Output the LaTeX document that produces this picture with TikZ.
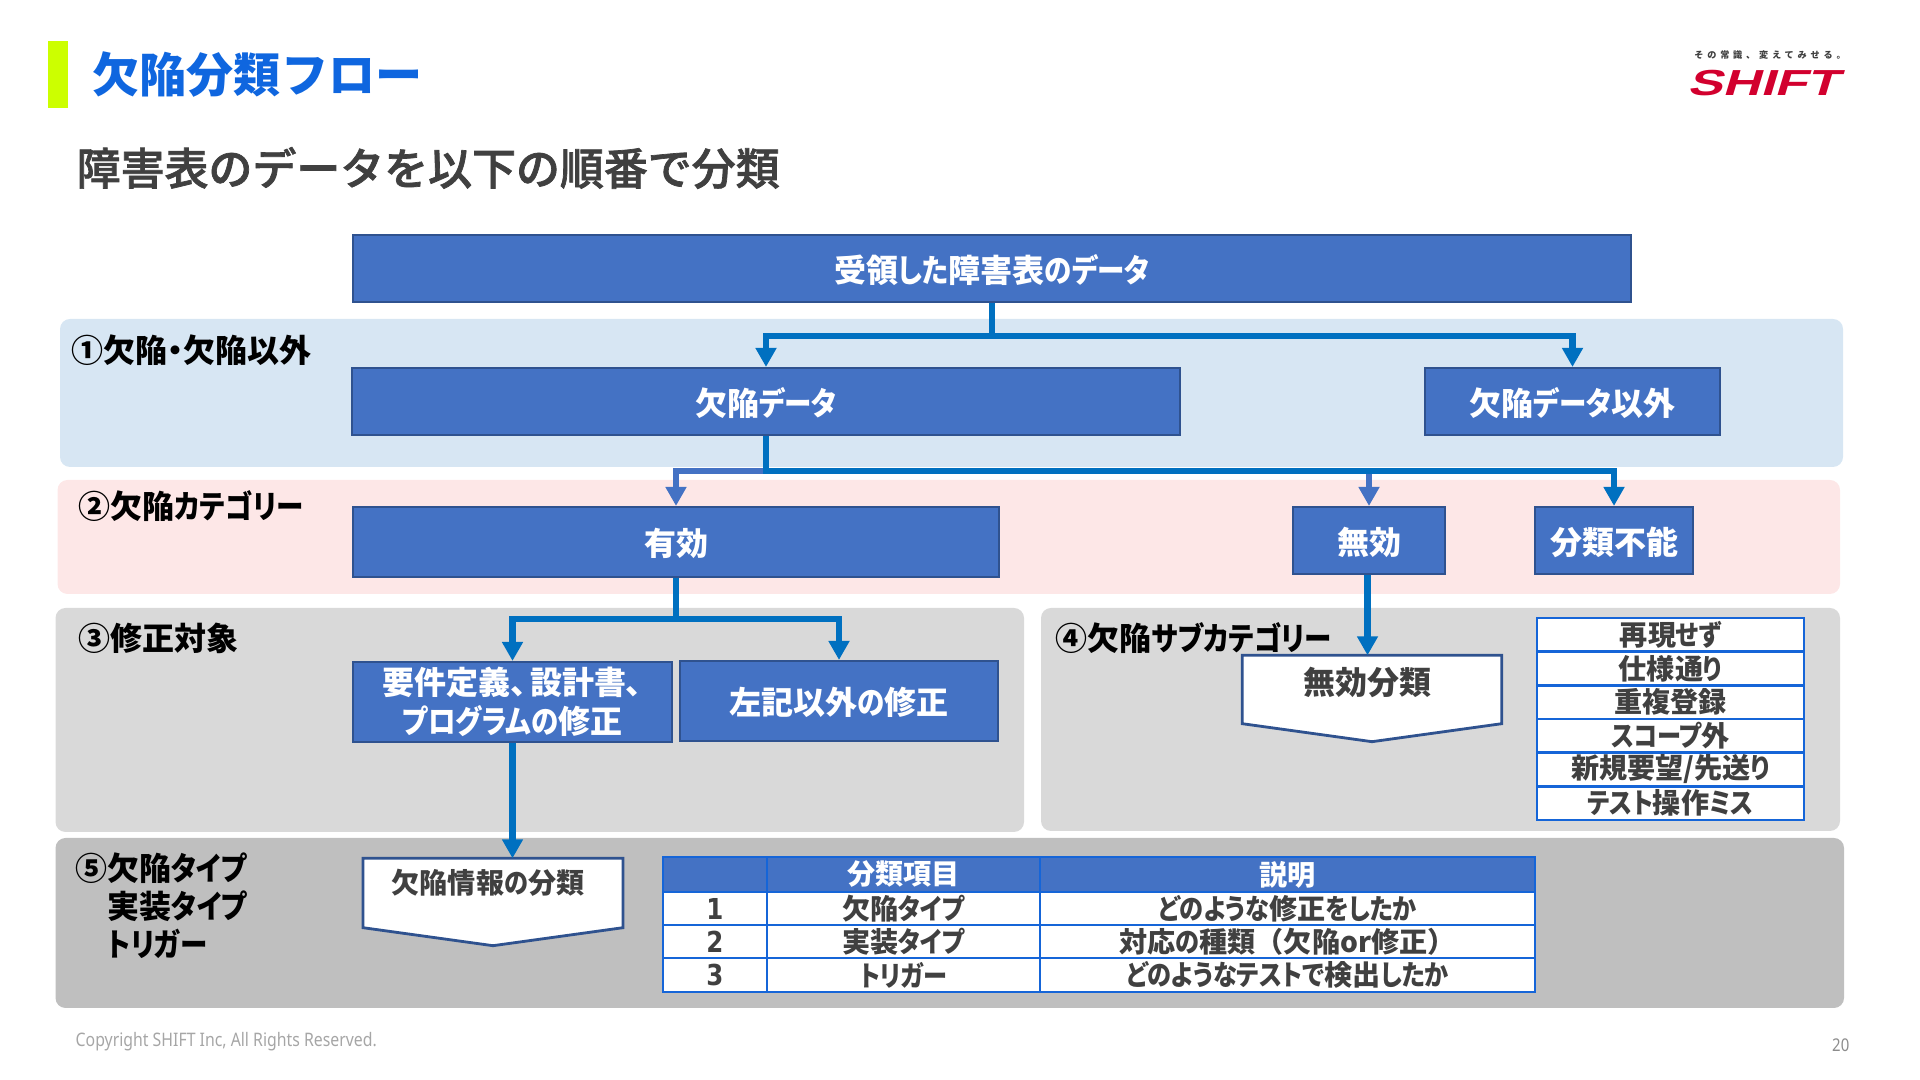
\documentclass[tikz,border=0pt]{standalone}
\usepackage{fontspec}
\setmainfont[RawFeature=+palt]{Noto Sans CJK JP}
\newfontfamily\headfont[FakeBold=1.6]{Noto Sans CJK JP Medium}
\newfontfamily\plainfont{Noto Sans CJK JP}
\newfontfamily\kanafont[RawFeature=+palt,FakeStretch=0.86]{Noto Sans CJK JP}
\newfontfamily\digitfont[FakeStretch=0.85]{DejaVu Sans}
\newfontfamily\sloganfont[LetterSpace=42]{Noto Sans CJK JP}
\newfontfamily\logofont[FakeSlant=0.3,FakeStretch=1.45]{Liberation Sans}
\newfontfamily\copyfont[FakeStretch=0.85]{Noto Sans}
\newcommand{\kn}[1]{{\kanafont #1}}
\usepackage{xcolor}
\definecolor{shiftBlue}{HTML}{4472C4}
\definecolor{shiftEdge}{HTML}{2F528F}
\definecolor{shiftFlow}{HTML}{0070C0}
\definecolor{shiftGrid}{HTML}{1565D8}
\definecolor{shiftTitle}{HTML}{0F66DF}
\definecolor{shiftLime}{HTML}{CCFF00}
\definecolor{shiftRed}{HTML}{D2002E}
\definecolor{shiftInk}{HTML}{404040}
\definecolor{bandOne}{HTML}{D7E6F3}
\definecolor{bandTwo}{HTML}{FDE7E7}
\definecolor{bandThree}{HTML}{D9D9D9}
\definecolor{bandFive}{HTML}{BFBFBF}
\usetikzlibrary{calc,arrows.meta}
\tikzset{
  flowbox/.style={draw=shiftEdge, line width=.6pt, fill=shiftBlue, text=white, inner sep=0pt,
    align=center, font=\fontsize{9.1}{11}\selectfont\bfseries},
  flowline/.style={flowbox, text height=.32cm, text depth=.04cm},
  flow/.style={->, shiftFlow, line width=.065cm},
  flowlight/.style={->, shiftBlue, line width=.065cm},
  band/.style={rounded corners=.1cm},
  bandlabel/.style={anchor=west, inner sep=0pt, align=left, text=black,
    font=\fontsize{9.1}{10.8}\selectfont\bfseries},
  pagelabel/.style={inner sep=0pt, font=\fontsize{8}{9}\selectfont\bfseries},
  pageshape/.style={draw=none, inner sep=0pt},
  pageline/.style={draw=shiftEdge, line width=.8pt, fill=white},
  cell/.style={draw=shiftGrid, line width=.7pt, fill=white, text=shiftInk, inner sep=0pt,
    font=\fontsize{8}{9}\selectfont\bfseries},
  headcell/.style={cell, fill=shiftBlue, text=white},
}

\begin{document}
\begin{tikzpicture}[>={Triangle[length=.19cm,width=.2cm]}]
  \useasboundingbox (0,0) rectangle (19.2,10.8);
  % heading
  \fill[shiftLime] (0.48,9.72) rectangle (0.675,10.39);
  \node[anchor=west, inner sep=0pt, text=shiftTitle, font=\fontsize{13.4}{15}\plainfont\bfseries] (title) at (0.92,10.05) {欠陥分類フロー};
  \node[anchor=west, inner sep=0pt, text=shiftInk, font=\fontsize{12.5}{14}\headfont] (subtitle) at (0.76,9.12) {障害表のデータを以下の順番で分類};
  % logo
  \node[inner sep=0pt, text=shiftInk, font=\fontsize{2.6}{3}\sloganfont\bfseries] (slogan) at (17.70,10.25) {その常識、変えてみせる。};
  \node[inner sep=0pt, text=shiftRed, font=\fontsize{10.3}{12}\logofont\bfseries] (logo) at (17.63,9.97) {SHIFT};
  % bands
  \fill[band, bandOne]   (0.60,6.13) rectangle (18.43,7.61);
  \fill[band, bandTwo]   (0.575,4.86) rectangle (18.40,6.00);
  \fill[band, bandThree] (0.555,2.48) rectangle (10.24,4.72);
  \fill[band, bandThree] (10.41,2.49) rectangle (18.40,4.72);
  \fill[band, bandFive]  (0.555,0.72) rectangle (18.44,2.42);
  \node[bandlabel] (labelOne)   at (0.71,7.30) {①欠陥・欠陥以外};
  \node[bandlabel] (labelTwo)   at (0.78,5.74) {②欠陥\kn{カテゴリー}};
  \node[bandlabel] (labelThree) at (0.78,4.42) {③修正対象};
  \node[bandlabel] (labelFour)  at (10.55,4.42) {④欠陥\kn{サブカテゴリー}};
  \node[bandlabel, anchor=north west, text depth=0pt] (labelFive) at (0.75,2.275)
    {⑤欠陥\kn{タイプ}\\\hspace*{.32cm}実装\kn{タイプ}\\\hspace*{.32cm}\kn{トリガー}};
  % flow boxes
  \node[flowline, minimum width=12.785cm, minimum height=.67cm] (received) at (9.92,8.115) {受領\kn{した}障害表\kn{のデータ}};
  \node[flowline, minimum width=8.275cm, minimum height=.67cm] (defect) at (7.66,6.785) {欠陥\kn{データ}};
  \node[flowline, minimum width=2.95cm, minimum height=.67cm] (nondefect) at (15.725,6.785) {欠陥\kn{データ}以外};
  \node[flowline, minimum width=6.465cm, minimum height=.70cm] (valid) at (6.76,5.38) {有効};
  \node[flowline, minimum width=1.52cm, minimum height=.67cm] (invalid) at (13.69,5.395) {無効};
  \node[flowline, minimum width=1.58cm, minimum height=.67cm] (unsorted) at (16.14,5.395) {分類不能};
  \node[flowbox, minimum width=3.19cm, minimum height=.80cm] (design) at (5.125,3.78) {要件定義、\hspace{.1em}設計書、\\\kn{プログラムの}修正};
  \node[flowline, minimum width=3.18cm, minimum height=.80cm] (otherfix) at (8.39,3.79) {左記以外\kn{の}修正};
  % page shapes
  \node[pageshape, minimum width=2.58cm, minimum height=.85cm] (invalidsort) at (13.72,3.815) {};
  \draw[pageline] (invalidsort.north west) -- (invalidsort.north east) -- ($(invalidsort.south east)+(0,.18)$)
    -- (invalidsort.south) -- ($(invalidsort.south west)+(0,.18)$) -- cycle;
  \node[pagelabel, text=shiftInk, font=\fontsize{9.1}{10}\selectfont\bfseries] (invalidsorttext) at (13.67,3.98) {無効分類};
  \node[pageshape, minimum width=2.585cm, minimum height=.86cm] (infosort) at (4.93,1.78) {};
  \draw[pageline] (infosort.north west) -- (infosort.north east) -- ($(infosort.south east)+(0,.18)$)
    -- (infosort.south) -- ($(infosort.south west)+(0,.18)$) -- cycle;
  \node[pagelabel, text=shiftInk] (infosorttext) at (4.88,1.97) {欠陥情報\kn{の}分類};
  % connectors
  \coordinate (busOne) at (9.92,7.44);
  \coordinate (busTwo) at (7.66,6.09);
  \coordinate (busThree) at (6.76,4.61);
  \draw[flow] (received.south) -- (busOne) -| (defect.north);
  \draw[flow] (busOne) -| (nondefect.north);
  \draw[flowlight] (busTwo) -| (valid.north);
  \draw[flowlight] (busTwo) -| (invalid.north);
  \draw[flow] (defect.south) -- (busTwo) -| (unsorted.north);
  \draw[flow] (valid.south) -- (busThree) -| (design.north);
  \draw[flow] (busThree) -| (otherfix.north);
  \draw[flow] ([xshift=-.015cm]invalid.south) -- ([xshift=-.015cm]invalid.south |- invalidsort.north);
  \draw[flow] (design.south) -- (design.south |- infosort.north);
  % sub category list
  \foreach \n/\y/\t in {1/4.452/再現\kn{せず}, 2/4.115/仕様通\kn{り}, 3/3.778/重複登録, 4/3.442/\kn{スコープ}外, 5/3.105/{新規要望/先送\kn{り}}, 6/2.768/\kn{テスト}操作\kn{ミス}}
    \node[cell, minimum width=2.67cm, minimum height=.337cm] (sub\n) at (16.705,\y) {\t};
  % type table
  \node[headcell, minimum width=1.04cm, minimum height=.35cm] (headNo) at (7.15,2.055) {};
  \node[headcell, minimum width=2.73cm, minimum height=.35cm] (headItem) at (9.035,2.055) {分類項目};
  \node[headcell, minimum width=4.95cm, minimum height=.35cm] (headNote) at (12.875,2.055) {説明};
  \foreach \n/\y/\a/\b in {1/1.715/欠陥\kn{タイプ}/\kn{どのような}修正\kn{をしたか}, 2/1.385/実装\kn{タイプ}/対応\kn{の}種類{\plainfont （}欠陥or修正{\plainfont ）}, 3/1.05/\kn{トリガー}/\kn{どのようなテストで}検出\kn{したか}} {
    \node[cell, minimum width=1.04cm, minimum height=.335cm, font=\fontsize{8.2}{9}\digitfont\bfseries] (no\n) at (7.15,\y) {\n};
    \node[cell, minimum width=2.73cm, minimum height=.335cm] (item\n) at (9.035,\y) {\a};
    \node[cell, minimum width=4.95cm, minimum height=.335cm] (note\n) at (12.875,\y) {\b};
  }
  % footer
  \node[anchor=west, inner sep=0pt, text=black!35, font=\fontsize{5.3}{6}\copyfont] (copyright) at (0.75,0.38) {Copyright SHIFT Inc, All Rights Reserved.};
  \node[anchor=east, inner sep=0pt, text=black!45, font=\fontsize{5}{6}\copyfont] (pageno) at (18.50,0.35) {20};
\end{tikzpicture}
\end{document}
